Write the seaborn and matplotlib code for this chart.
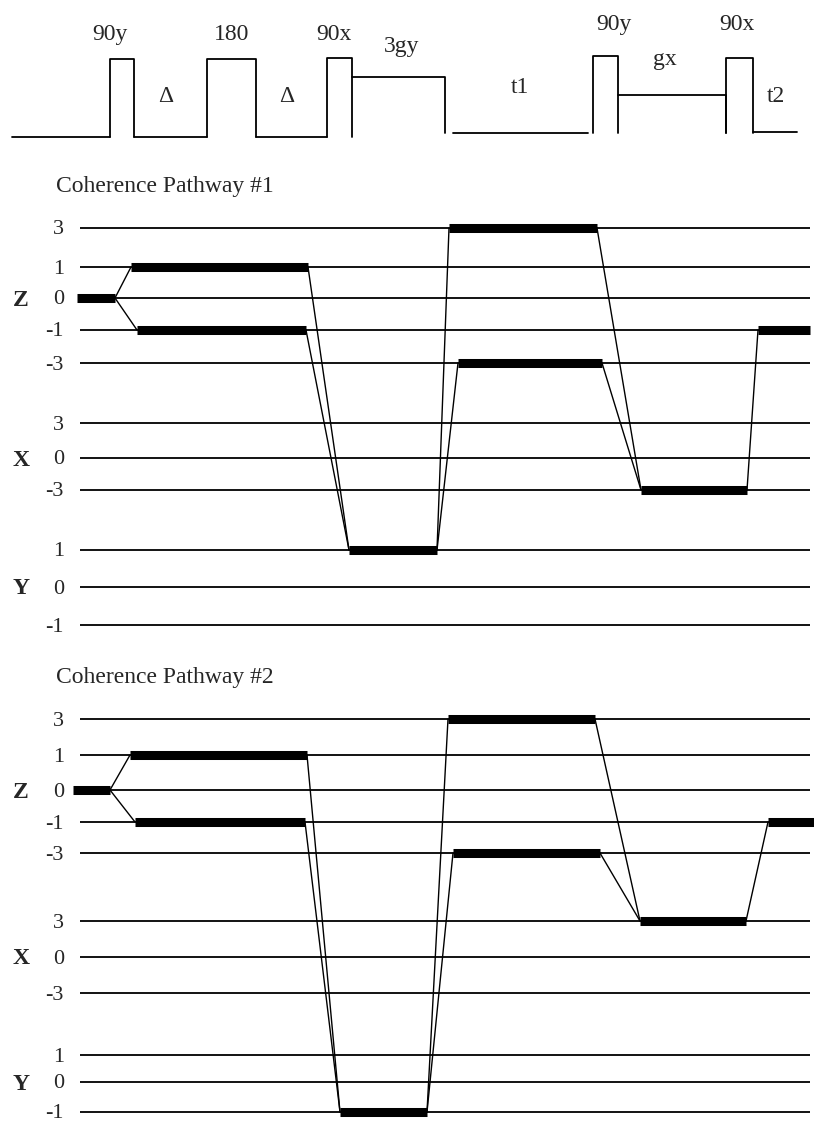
import matplotlib
matplotlib.use("Agg")
import matplotlib.pyplot as plt
import seaborn as sns
import pandas as pd

W, H = 814, 1124

# ---- pulse sequence (x = time position, heights above baseline) ----
pulse_names = ["90y", "180", "90x", "90y", "90x"]
pulse_start = [110, 207, 327, 593, 726]
pulse_end = [134, 256, 352, 618, 753]
pulse_top = [78, 78, 79, 81, 79]
pulse_base = [0, 0, 0, 4, 4]

grad_names = ["3gy", "gx"]
grad_start = [352, 618]
grad_end = [445, 726]
grad_level = [60, 42]
grad_drop = [4, 4]

base_start = [12, 134, 256, 453, 753]
base_end = [110, 207, 327, 588, 797]
base_level = [0, 0, 0, 4, 5]

delay_names = ["\u0394", "\u0394", "t1", "t2"]
delay_x = [166, 287, 520, 776]
delay_y = [35, 35, 44, 35]

# ---- coherence pathways ----
row_axis = ["Z", "Z", "Z", "Z", "Z", "X", "X", "X", "Y", "Y", "Y"]
row_level = [3, 1, 0, -1, -3, 3, 0, -3, 1, 0, -1]

p1_axis = ["Z", "Z", "Z", "Y", "Z", "Z", "X", "Z"]
p1_level = [0, 1, -1, 1, 3, -3, -3, -1]
p1_start = [77, 131, 137, 349, 449, 458, 641, 758]
p1_end = [115, 308, 306, 437, 597, 602, 747, 810]

p2_axis = ["Z", "Z", "Z", "Y", "Z", "Z", "X", "Z"]
p2_level = [0, 1, -1, -1, 3, -3, 3, -1]
p2_start = [73, 130, 135, 340, 448, 453, 640, 768]
p2_end = [110, 307, 305, 427, 595, 600, 746, 814]

# transitions between states (from bar i end to bar j start)
links = [(0, 1), (0, 2), (1, 3), (2, 3), (3, 4), (3, 5), (4, 6), (5, 6), (6, 7)]

sns.set_theme(style="white")
plt.rcParams['font.family'] = ['Liberation Serif', 'DejaVu Serif']

fig = plt.figure(figsize=(W / 100, H / 100), dpi=100)


def panel(top, bottom, ylim):
    ax = fig.add_axes([0, 1 - bottom / H, 1, (bottom - top) / H])
    ax.set_xlim(0, W)
    ax.set_ylim(*ylim)
    ax.axis('off')
    return ax


# pulse sequence panel: amplitude a drawn at pixel row 137 - a
ax0 = panel(0, 160, (-23, 137))
k = dict(color='black', lw=1.3)
for s, e, b in zip(base_start, base_end, base_level):
    ax0.plot([s, e], [b, b], **k)
for s, e, t, b in zip(pulse_start, pulse_end, pulse_top, pulse_base):
    ax0.plot([s, s, e, e], [b, t, t, b], **k)
for s, e, g, d in zip(grad_start, grad_end, grad_level, grad_drop):
    ax0.plot([s, e, e], [g, g, d], **k)

pulse_label_x = [110, 232, 334, 614, 737]
pulse_label_y = [97, 97, 97, 107, 107]
for name, x, y in zip(pulse_names, pulse_label_x, pulse_label_y):
    ax0.text(x, y, name, ha='center', va='baseline', fontsize=17)
grad_label_x = [402, 665]
grad_label_y = [85, 72]
for name, x, y in zip(grad_names, grad_label_x, grad_label_y):
    ax0.text(x, y, name, ha='center', va='baseline', fontsize=17)
for name, x, y in zip(delay_names, delay_x, delay_y):
    ax0.text(x, y, name, ha='center', va='baseline', fontsize=17)


def draw_pathway(ax, title, offsets, axis, level, start, end):
    row_y = {(a, l): y for a, l, y in zip(row_axis, row_level, offsets)}
    ax.hlines(offsets, 80, 810, color='black', lw=1.3)
    for (a, l), y in row_y.items():
        ax.text(64, y + 2, str(l), ha='right', va='center', fontsize=16)
    for a in ["Z", "X", "Y"]:
        ax.text(13, row_y[(a, 0)] + 2, a, ha='left', va='center',
                fontsize=17, fontweight='bold')
    ys = [row_y[(a, l)] for a, l in zip(axis, level)]
    ax.hlines(ys, start, end, color='black', lw=6.5)
    rows = []
    for n, (i, j) in enumerate(links):
        rows.append({'x': end[i], 'y': ys[i], 'seg': n})
        rows.append({'x': start[j], 'y': ys[j], 'seg': n})
    df = pd.DataFrame(rows)
    sns.lineplot(data=df, x='x', y='y', units='seg', estimator=None,
                 sort=False, color='black', lw=1.0, ax=ax)
    ax.axis('off')
    ax.text(56, -36, title, ha='left', va='baseline', fontsize=17)


p1_offsets = [0, 39, 70, 102, 135, 195, 230, 262, 322, 359, 397]
p2_offsets = [0, 36, 71, 103, 134, 202, 238, 274, 336, 363, 393]

ax1 = panel(160, 650, (650 - 228, 160 - 228))
draw_pathway(ax1, "Coherence Pathway #1", p1_offsets, p1_axis, p1_level, p1_start, p1_end)
ax1.set_xlim(0, W)
ax1.set_ylim(650 - 228, 160 - 228)

ax2 = panel(650, 1124, (1124 - 719, 650 - 719))
draw_pathway(ax2, "Coherence Pathway #2", p2_offsets, p2_axis, p2_level, p2_start, p2_end)
ax2.set_xlim(0, W)
ax2.set_ylim(1124 - 719, 650 - 719)

fig.savefig("out.png", dpi=100, facecolor='white')
